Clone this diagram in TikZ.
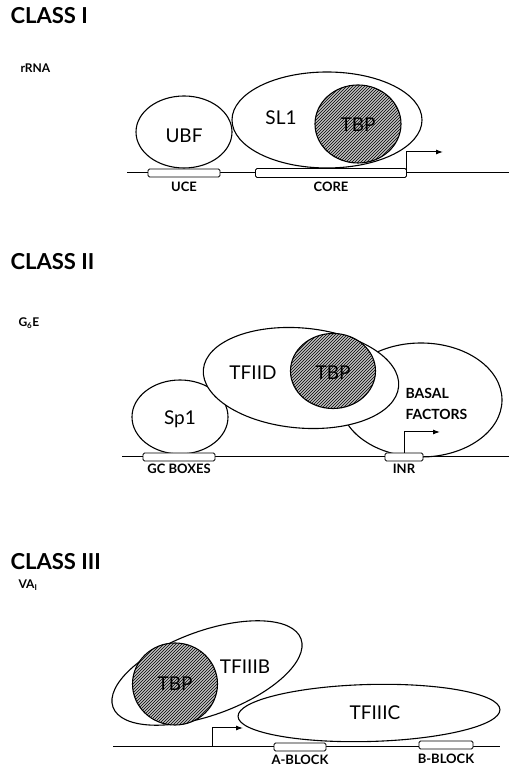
\documentclass[tikz,border=0pt]{standalone}
\usepackage{fontspec}
\setmainfont{Lato}
\usetikzlibrary{shapes.geometric,patterns,arrows.meta}
\tikzset{
  prot/.style={draw,ellipse,line width=1.1pt,fill=white,inner sep=0pt},
  tbp/.style={prot,fill=gray!50,postaction={pattern=north east lines}},
  site/.style={draw,rectangle,rounded corners=1.5pt,line width=0.9pt,fill=white,inner sep=0pt,minimum height=8pt},
  dna/.style={line width=1pt},
  tss/.style={line width=1pt,-{Latex[length=7pt,width=5pt]}},
  classname/.style={anchor=west,font=\bfseries\fontsize{22}{26}\selectfont},
  gene/.style={anchor=west,font=\bfseries\fontsize{12}{14}\selectfont},
  factor/.style={font=\fontsize{19}{22}\selectfont},
  sitelabel/.style={font=\bfseries\fontsize{13}{15}\selectfont},
}
\begin{document}
\begin{tikzpicture}[x=1pt,y=1pt]
\useasboundingbox (0,0) rectangle (509,766);

% class I
\node[classname] (c1) at (7,750) {CLASS I};
\node[gene] (g1) at (17,698) {rRNA};
\node[prot,minimum width=96,minimum height=72] (ubf) at (184,634) {};
\node[prot,minimum width=190,minimum height=96] (sl1) at (327,646) {};
\node[tbp,minimum width=86,minimum height=78] (tbp1) at (358,642) {};
\node[factor] (ubfl) at (184,630) {UBF};
\node[factor] (sl1l) at (281,648) {SL1};
\node[factor] (tbp1l) at (358,641) {TBP};
\coordinate (d1a) at (127,593);
\coordinate (d1b) at (509,593);
\draw[dna] (d1a) -- (d1b);
\node[site,minimum width=72] (uce) at (184,593) {};
\node[site,minimum width=151,minimum height=9] (core) at (331,593) {};
\node[sitelabel] (ucel) at (184,579) {UCE};
\node[sitelabel] (corel) at (331,579) {CORE};
\coordinate (s1) at (443,614);
\draw[tss] (core.east) |- (s1);

% class II
\node[classname] (c2) at (7,504) {CLASS II};
\node[gene] (g2) at (15,443) {G\textsubscript{6}E};
\node[prot,minimum width=162,minimum height=114] (basal) at (421,366) {};
\node[prot,minimum width=96,minimum height=74] (sp1) at (180,349) {};
\node[prot,minimum width=196,minimum height=100,rotate=-5] (tfiid) at (301,388) {};
\node[tbp,minimum width=85,minimum height=75] (tbp2) at (333,395) {};
\node[factor] (sp1l) at (180,347) {Sp1};
\node[factor] (tfiidl) at (253,393) {TFIID};
\node[factor] (tbp2l) at (333,393) {TBP};
\node[sitelabel,align=left,anchor=west,font=\bfseries\fontsize{14}{21}\selectfont] (basall) at (402,362) {BASAL\\FACTORS};
\coordinate (d2a) at (122,309);
\coordinate (d2b) at (509,309);
\draw[dna] (d2a) -- (d2b);
\node[site,minimum width=72] (gc) at (179,309) {};
\node[site,minimum width=38] (inr) at (404,309) {};
\node[sitelabel] (gcl) at (179,297) {GC BOXES};
\node[sitelabel] (inrl) at (404,297) {INR};
\coordinate (s2) at (440,334);
\draw[tss] (inr.north) |- (s2);

% class III
\node[classname] (c3) at (7,204) {CLASS III};
\node[gene] (g3) at (15,181) {VA\textsubscript{I}};
\node[prot,minimum width=200,minimum height=84,rotate=20] (tfiiib) at (207,93) {};
\node[tbp,minimum width=85,minimum height=82] (tbp3) at (175,82) {};
\node[prot,minimum width=262,minimum height=57,rotate=1.5] (tfiiic) at (369,53) {};
\node[factor] (tfiiibl) at (245,99) {TFIIIB};
\node[factor] (tbp3l) at (175,82) {TBP};
\node[factor] (tfiiicl) at (375,53) {TFIIIC};
\coordinate (d3a) at (113,19);
\coordinate (d3b) at (500,19);
\draw[dna] (d3a) -- (d3b);
\node[site,minimum width=52] (ablock) at (300,19) {};
\node[site,minimum width=54] (bblock) at (446,21) {};
\node[sitelabel] (ablockl) at (300,6) {A-BLOCK};
\node[sitelabel] (bblockl) at (446,7) {B-BLOCK};
\coordinate (p3) at (212,19);
\coordinate (s3) at (243,38);
\draw[tss] (p3) |- (s3);
\end{tikzpicture}
\end{document}
